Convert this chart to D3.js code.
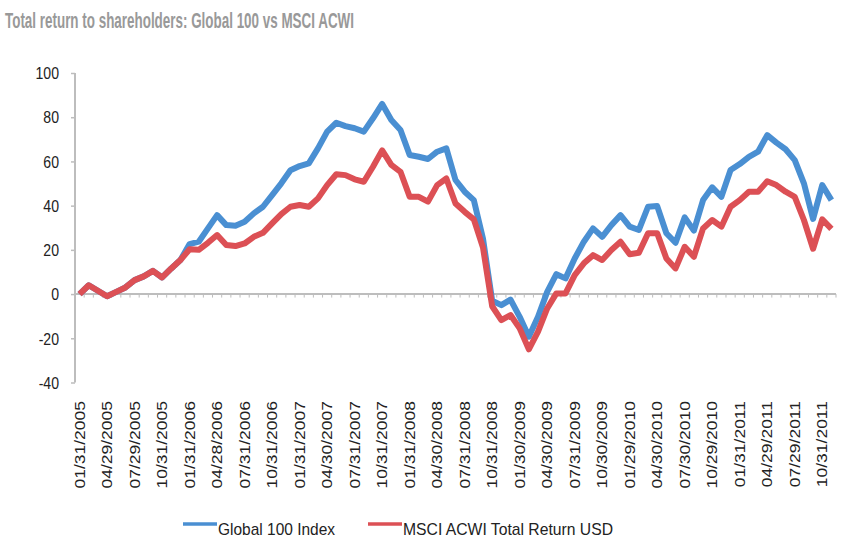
<!DOCTYPE html>
<html>
<head>
<meta charset="utf-8">
<script src="https://cdn.jsdelivr.net/npm/d3@7"></script>
<style>
  html, body { margin: 0; padding: 0; background: #ffffff; }
  svg { display: block; }
  text { font-family: "Liberation Sans", Arial, sans-serif; }
</style>
</head>
<body>
<svg id="chart" width="855" height="552"></svg>
<script>
// ---- data (monthly, Jan 2005 .. Nov 2011), cumulative total return % ----
const seriesNames = ["Global 100 Index", "MSCI ACWI Total Return USD"];
const seriesColors = ["#4a8fd2", "#dc5055"];

const global100 = [
  0, 4, 1.5, -1, 1, 3, 6.3, 8, 10.5, 7.5, 11.6, 15.4,
  22.6, 23.7, 29.7, 35.7, 31.2, 30.9, 32.7, 36.5, 39.5, 44.8, 50.1, 56,
  57.9, 59.1, 65.9, 73.5, 77.5, 76, 75, 73.5, 79.5, 86, 78.7, 74.2,
  62.9, 62.1, 61.1, 64.4, 65.9, 51.6, 46.3, 42.5, 25, -3, -5, -2.5,
  -10.3, -19.3, -10.3, 1, 9, 7.1, 16.1, 23.7, 29.7, 25.9, 31.2, 35.7,
  30.5, 29, 39.5, 39.8, 27.5, 23.2, 34.7, 28.7, 42.5, 48.3, 44, 56.1,
  58.8, 62.1, 64.4, 71.9, 68.5, 65.5, 60.6, 50.1, 34, 49.3, 42.5
];

const msciAcwi = [
  0, 4, 1.5, -1, 1, 3, 6.3, 8, 10.5, 7.5, 11.6, 15.4,
  20.3, 20, 23.2, 26.7, 22.2, 21.7, 22.9, 25.9, 27.7, 32, 36.2, 39.5,
  40.3, 39.5, 43.3, 49.3, 54.2, 53.8, 51.9, 50.8, 57.6, 65, 58.4, 55.3,
  44, 44, 41.8, 49.3, 52.3, 41, 37.2, 33.8, 21, -5.5, -11.8, -9.5,
  -15.5, -25, -17, -6.5, 0.3, 0.3, 8.6, 13.9, 17.6, 15.4, 19.9, 23.7,
  18, 18.7, 27.5, 27.5, 16.1, 11.6, 21.4, 16.9, 29.7, 33.5, 30.5, 39.5,
  42.5, 46.3, 46.3, 51, 49.3, 46.3, 44, 33.5, 20.5, 33.8, 29.5
];

// category labels shown on the axis (every third month)
const tickLabels = [
  "01/31/2005", "04/29/2005", "07/29/2005", "10/31/2005",
  "01/31/2006", "04/28/2006", "07/31/2006", "10/31/2006",
  "01/31/2007", "04/30/2007", "07/31/2007", "10/31/2007",
  "01/31/2008", "04/30/2008", "07/31/2008", "10/31/2008",
  "01/30/2009", "04/30/2009", "07/31/2009", "10/30/2009",
  "01/29/2010", "04/30/2010", "07/30/2010", "10/29/2010",
  "01/31/2011", "04/29/2011", "07/29/2011", "10/31/2011"
];
const tickEvery = 3;
const yTicks = [-40, -20, 0, 20, 40, 60, 80, 100];

const titleText = "Total return to shareholders: Global 100 vs MSCI ACWI";

// ---- drawing ----
const svg = d3.select("#chart");
const axisColor = "#bdbdbd";
const textColor = "#222222";

const categories = d3.range(global100.length);
const x = d3.scaleBand().domain(categories).range([75, 836]).paddingInner(0).paddingOuter(0);
const xc = i => x(i) + x.bandwidth() / 2;
const y = d3.scaleLinear().domain([-40, 100]).range([382.5, 73]);

// title
svg.append("text")
  .attr("x", 5).attr("y", 28)
  .attr("font-size", 22).attr("font-weight", "bold")
  .attr("fill", "#999999")
  .attr("textLength", 349).attr("lengthAdjust", "spacingAndGlyphs")
  .text(titleText);

// y axis
const yAxis = svg.append("g").attr("transform", "translate(75,0)")
  .call(d3.axisLeft(y).tickValues(yTicks).tickSize(4).tickSizeOuter(0).tickFormat(d => String(d)));
yAxis.select(".domain").attr("stroke", axisColor).attr("stroke-width", 2)
  .attr("d", `M0,${y(100)}V${y(-40)}`);
yAxis.selectAll(".tick line").attr("stroke", axisColor).attr("stroke-width", 1.5);
yAxis.selectAll(".tick text")
  .attr("x", null)
  .attr("transform", "translate(-16,0) scale(0.88,1)")
  .attr("dy", "0.36em")
  .attr("font-size", 16).attr("fill", textColor)
  .attr("font-family", "Liberation Sans, Arial, sans-serif");

// x axis (at zero) with minor ticks on category boundaries
const xAxisG = svg.append("g").attr("transform", `translate(0,${y(0)})`);
const boundaries = d3.range(categories.length + 1).map(k => 75 + k * x.bandwidth());
xAxisG.selectAll("line.minor").data(boundaries).join("line")
  .attr("class", "minor")
  .attr("x1", d => d).attr("x2", d => d)
  .attr("y1", 0).attr("y2", 3.5)
  .attr("stroke", axisColor).attr("stroke-width", 1);
xAxisG.append("line")
  .attr("x1", 75).attr("x2", 836).attr("y1", 0).attr("y2", 0)
  .attr("stroke", axisColor).attr("stroke-width", 2);

// x tick labels (rotated)
svg.append("g").selectAll("text").data(tickLabels).join("text")
  .attr("transform", (d, k) => `translate(${xc(k * tickEvery)},401) scale(0.8,1) rotate(-90)`)
  .attr("text-anchor", "end")
  .attr("dy", "0.36em")
  .attr("font-size", 17.5)
  .attr("fill", textColor)
  .text(d => d);

// lines
const line = d3.line().x((d, i) => xc(i)).y(d => y(d));
[global100, msciAcwi].forEach((s, k) => {
  svg.append("path")
    .datum(s)
    .attr("fill", "none")
    .attr("stroke", seriesColors[k])
    .attr("stroke-width", 6)
    .attr("stroke-linejoin", "round")
    .attr("stroke-linecap", "butt")
    .attr("d", line);
});

// legend
const legendItems = [
  { x0: 183, x1: 217, tx: 218, tw: 117 },
  { x0: 368, x1: 402, tx: 403, tw: 210 }
];
const lg = svg.append("g");
legendItems.forEach((it, k) => {
  lg.append("line")
    .attr("x1", it.x0).attr("x2", it.x1).attr("y1", 524).attr("y2", 524)
    .attr("stroke", seriesColors[k]).attr("stroke-width", 3.5);
  lg.append("text")
    .attr("x", it.tx).attr("y", 535)
    .attr("font-size", 17).attr("fill", textColor)
    .attr("textLength", it.tw).attr("lengthAdjust", "spacingAndGlyphs")
    .text(seriesNames[k]);
});
</script>
</body>
</html>
